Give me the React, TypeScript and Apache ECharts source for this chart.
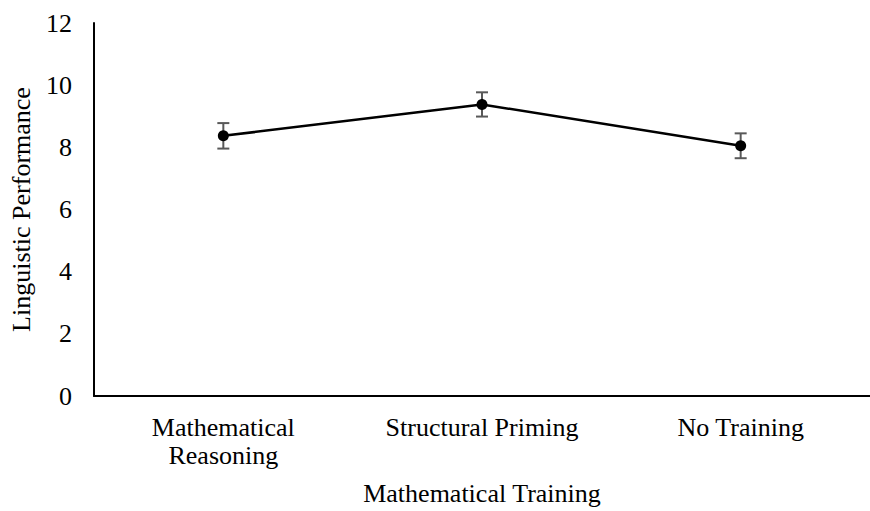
import React, { useEffect, useRef } from "react";
import * as echarts from "echarts";

const categories = ["Mathematical\nReasoning", "Structural Priming", "No Training"];
const means = [8.37, 9.38, 8.05];
const errors = [0.41, 0.39, 0.4];
const yTicks = [0, 2, 4, 6, 8, 10, 12];

const FONT = "'Liberation Serif', 'Times New Roman', serif";

export default function App() {
  const ref = useRef<HTMLDivElement>(null);
  useEffect(() => {
    document.body.style.margin = "0";
    if (!ref.current) return;
    const chart = echarts.init(ref.current, undefined, { renderer: "svg" });
    const errData = means.map((m, i) => [i, m - errors[i], m + errors[i]]);
    chart.setOption({
      animation: false,
      backgroundColor: "#ffffff",
      grid: { left: 93, top: 23, width: 789, height: 373.5, containLabel: false },
      xAxis: {
        type: "category",
        data: categories,
        boundaryGap: true,
        axisLine: { show: true, lineStyle: { color: "#000", width: 2 } },
        axisTick: { show: false },
        axisLabel: {
          color: "#000",
          fontFamily: FONT,
          fontSize: 26,
          lineHeight: 28,
          margin: 17,
          interval: 0,
        },
        name: "Mathematical Training",
        nameLocation: "middle",
        nameGap: 84,
        nameTextStyle: { color: "#000", fontFamily: FONT, fontSize: 26 },
      },
      yAxis: {
        type: "value",
        min: yTicks[0],
        max: yTicks[yTicks.length - 1],
        interval: 2,
        axisLine: { show: true, lineStyle: { color: "#000", width: 2 } },
        axisTick: { show: false },
        splitLine: { show: false },
        axisLabel: {
          color: "#000",
          fontFamily: FONT,
          fontSize: 26,
          margin: 22,
        },
        name: "Linguistic Performance",
        nameLocation: "middle",
        nameGap: 60,
        nameRotate: 90,
        nameTextStyle: { color: "#000", fontFamily: FONT, fontSize: 26 },
      },
      series: [
        {
          type: "line",
          data: means,
          lineStyle: { color: "#000", width: 2.5 },
          itemStyle: { color: "#000" },
          symbol: "circle",
          symbolSize: 11,
          z: 3,
        },
        {
          type: "custom",
          data: errData,
          z: 2,
          renderItem: (params: any, api: any) => {
            const x = api.value(0);
            const lo = api.coord([x, api.value(1)]);
            const hi = api.coord([x, api.value(2)]);
            const half = 6;
            const style = { stroke: "#595959", lineWidth: 2, fill: "none" };
            return {
              type: "group",
              children: [
                { type: "line", shape: { x1: lo[0], y1: lo[1], x2: hi[0], y2: hi[1] }, style },
                { type: "line", shape: { x1: lo[0] - half, y1: lo[1], x2: lo[0] + half, y2: lo[1] }, style },
                { type: "line", shape: { x1: hi[0] - half, y1: hi[1], x2: hi[0] + half, y2: hi[1] }, style },
              ],
            };
          },
        },
      ],
    });
    return () => chart.dispose();
  }, []);
  return <div ref={ref} style={{ width: 870, height: 511 }} />;
}
